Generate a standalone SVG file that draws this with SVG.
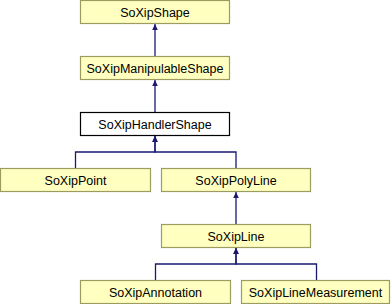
<svg xmlns="http://www.w3.org/2000/svg" width="392" height="304" viewBox="0 0 392 304">
  <style>
    .node rect { fill: #ffffc0; stroke: #9c9c60; stroke-width: 1.2; }
    .node.current rect { fill: #ffffff; stroke: #000000; }
    .node text { font-family: "Liberation Sans", Arial, sans-serif; font-size: 12.5px; fill: #000000; text-anchor: middle; }
    .edge { fill: none; stroke: #191970; stroke-width: 1.3; marker-end: url(#arrow); }
  </style>
  <defs>
    <marker id="arrow" viewBox="0 -3 6 6" refX="6" refY="0" markerWidth="6" markerHeight="6" markerUnits="userSpaceOnUse" orient="auto">
      <path d="M0,-2.8 L6,0 L0,2.8 z" fill="#191970"/>
    </marker>
  </defs>
  <rect width="392" height="304" fill="#ffffff"/>

  <!-- inheritance edges: child -> parent -->
  <g id="connectors">
    <path class="edge" d="M155,56 V24"/>
    <path class="edge" d="M155,112 V80"/>
    <path class="edge" d="M75.5,168 V152 H155 V136"/>
    <path class="edge" d="M236,168 V152 H155 V136"/>
    <path class="edge" d="M236,224 V192"/>
    <path class="edge" d="M155.5,280 V264 H236 V248"/>
    <path class="edge" d="M316.5,280 V264 H236 V248"/>
  </g>

  <g id="SoXipShape" class="node">
    <rect x="80.5" y="0.5" width="149" height="23"/>
    <text x="155" y="16.5">SoXipShape</text>
  </g>
  <g id="SoXipManipulableShape" class="node">
    <rect x="80.5" y="56.5" width="149" height="23"/>
    <text x="155" y="72.5">SoXipManipulableShape</text>
  </g>
  <g id="SoXipHandlerShape" class="node current">
    <rect x="80.5" y="112.5" width="149" height="23"/>
    <text x="155" y="128.5">SoXipHandlerShape</text>
  </g>
  <g id="SoXipPoint" class="node">
    <rect x="0.5" y="168.5" width="150" height="23"/>
    <text x="75.5" y="184.5">SoXipPoint</text>
  </g>
  <g id="SoXipPolyLine" class="node">
    <rect x="161.5" y="168.5" width="149" height="23"/>
    <text x="236" y="184.5">SoXipPolyLine</text>
  </g>
  <g id="SoXipLine" class="node">
    <rect x="161.5" y="224.5" width="149" height="23"/>
    <text x="236" y="240.5">SoXipLine</text>
  </g>
  <g id="SoXipAnnotation" class="node">
    <rect x="80.5" y="280.5" width="150" height="23"/>
    <text x="155.5" y="296.5">SoXipAnnotation</text>
  </g>
  <g id="SoXipLineMeasurement" class="node">
    <rect x="241.5" y="280.5" width="148" height="23"/>
    <text x="315.5" y="296.5">SoXipLineMeasurement</text>
  </g>
</svg>
